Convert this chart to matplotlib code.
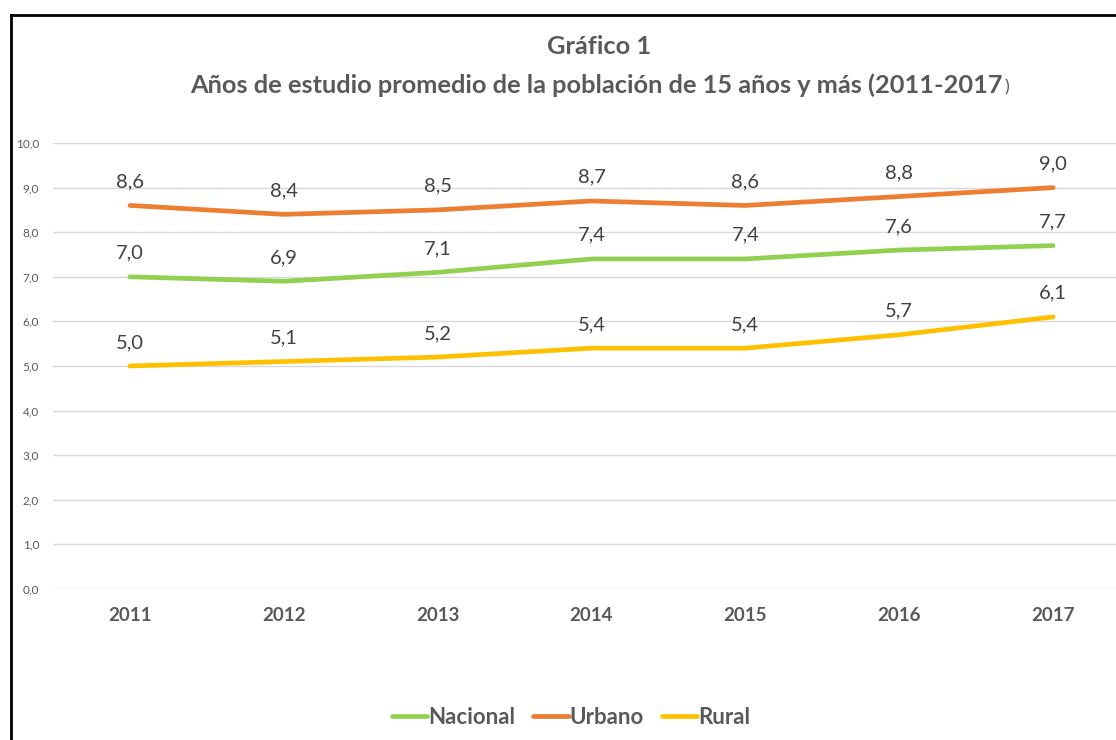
import matplotlib.pyplot as plt
from matplotlib.lines import Line2D

years = ["2011", "2012", "2013", "2014", "2015", "2016", "2017"]
nacional = [7.0, 6.9, 7.1, 7.4, 7.4, 7.6, 7.7]
urbano = [8.6, 8.4, 8.5, 8.7, 8.6, 8.8, 9.0]
rural = [5.0, 5.1, 5.2, 5.4, 5.4, 5.7, 6.1]
y_ticks = [0, 1, 2, 3, 4, 5, 6, 7, 8, 9, 10]

GRAY = "#595959"
FONT = "Lato"

W, H = 1116, 740
fig = plt.figure(figsize=(W / 100, H / 100), dpi=100)

# plot area in pixels (right side is cut off like in the source image)
left, right, top, bottom = 53, 1130, 143, 589
ax = fig.add_axes([left / W, 1 - bottom / H, (right - left) / W, (bottom - top) / H])

series = [
    ("Nacional", nacional, "#92D050"),
    ("Urbano", urbano, "#ED7D31"),
    ("Rural", rural, "#FFC000"),
]
x = list(range(len(years)))
for name, vals, col in series:
    ax.plot(x, vals, color=col, lw=3.4, solid_capstyle="round",
            solid_joinstyle="round", label=name, zorder=3)
    for xi, v in zip(x, vals):
        ax.annotate(f"{v:.1f}".replace(".", ","), (xi, v), xytext=(0, 17),
                    textcoords="offset points", ha="center", va="center",
                    fontsize=14.5, color="#404040", family=FONT)

ax.set_xlim(-0.5, len(years) - 0.5)
ax.set_ylim(0, 10)
ax.set_yticks(y_ticks)
ax.set_yticklabels([f"{t:.1f}".replace(".", ",") for t in y_ticks],
                   fontsize=8.5, color=GRAY, family=FONT)
ax.set_xticks(x)
ax.set_xticklabels(years, fontsize=13.5, fontweight="bold", color=GRAY, family=FONT)
ax.tick_params(axis="both", length=0)
ax.tick_params(axis="x", pad=13)
ax.tick_params(axis="y", pad=10)
ax.grid(axis="y", color="#D9D9D9", lw=1)
ax.set_axisbelow(True)
for s in ax.spines.values():
    s.set_visible(False)

# outer frame: left and top only, the rest is cut off
fig.add_artist(Line2D([11 / W, 11 / W], [0, 1 - 15 / H], color="black", lw=2,
                      transform=fig.transFigure))
fig.add_artist(Line2D([11 / W, 1], [1 - 15 / H, 1 - 15 / H], color="black", lw=2,
                      transform=fig.transFigure))

fig.text(599 / W, 1 - 47 / H, "Gráfico 1", ha="center", va="center",
         fontsize=18.3, fontweight="bold", color=GRAY, family=FONT)
fig.text(1003 / W, 1 - 85 / H, "Años de estudio promedio de la población de 15 años y más (2011-2017",
         ha="right", va="center", fontsize=18.3, fontweight="bold", color=GRAY, family=FONT)
fig.text(1004 / W, 1 - 87 / H, ")", ha="left", va="center",
         fontsize=13, color=GRAY, family=FONT)

handles = [Line2D([], [], color=c, lw=3.4, solid_capstyle="round") for _, _, c in series]
fig.legend(handles, [n for n, _, _ in series], loc="center", bbox_to_anchor=(571 / W, 1 - 717 / H),
           ncol=3, frameon=False, handlelength=1.6, handletextpad=0.05, columnspacing=0.8,
           prop={"family": FONT, "weight": "bold", "size": 16}, labelcolor=GRAY)

fig.savefig("out.png", dpi=100)
